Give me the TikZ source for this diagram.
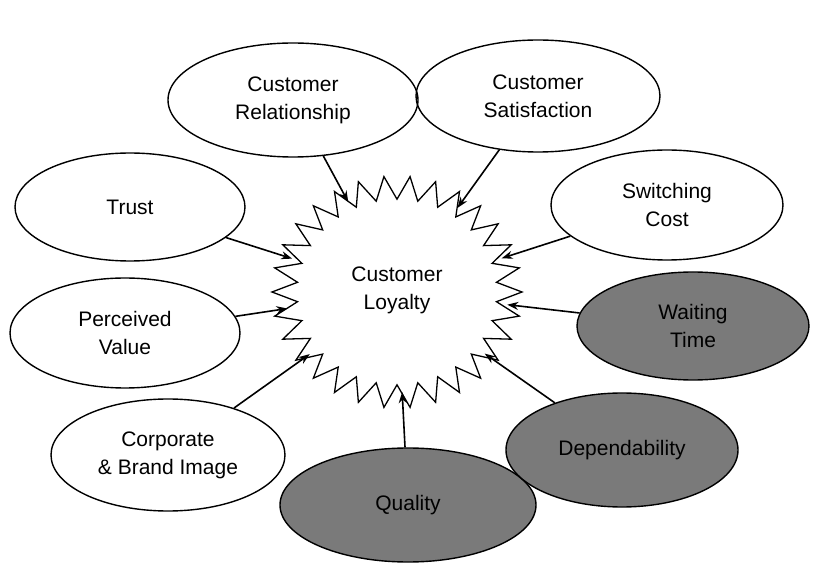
\documentclass[tikz,border=0pt]{standalone}
\usepackage{fontspec}
\setmainfont{Liberation Sans}
\usetikzlibrary{shapes.geometric,arrows.meta}
\definecolor{dg}{RGB}{122,122,122}
\begin{document}
\begin{tikzpicture}[x=1pt,y=-1pt,
 el/.style={ellipse,draw,line width=1.4pt,inner sep=0,align=center,font=\fontsize{21}{28}\selectfont},
 ar/.style={-{Stealth[length=11pt,width=8pt]},line width=1.6pt}]
\useasboundingbox (0,0) rectangle (820,569);
\fill[white] (0,0) rectangle (820,569);
\node[el,minimum width=250,minimum height=114] (cr) at (293,100) {Customer\\Relationship};
\node[el,minimum width=244,minimum height=112] (cs) at (538,96) {Customer\\Satisfaction};
\node[el,minimum width=230,minimum height=108] (tr) at (130,207) {Trust};
\node[el,minimum width=232,minimum height=110] (sw) at (667,205) {Switching\\Cost};
\node[el,minimum width=230,minimum height=110] (pv) at (125,333) {Perceived\\Value};
\node[el,fill=dg,minimum width=232,minimum height=108] (wt) at (693,326) {Waiting\\Time};
\node[el,minimum width=234,minimum height=112] (cb) at (168,455) {Corporate\\\& Brand Image};
\node[el,fill=dg,minimum width=256,minimum height=114] (qu) at (408,505) {Quality};
\node[el,fill=dg,minimum width=232,minimum height=114] (de) at (622,450) {Dependability};
\begin{scope}[shift={(397,292)}]
\draw[line width=1.3pt,fill=white] (0:125 and 116)
 \foreach \i in {1,...,59} { -- ({\i*6}:{125*(1-0.2*mod(\i,2))} and {116*(1-0.2*mod(\i,2))}) } -- cycle;
\end{scope}
\node[ellipse,minimum width=222,minimum height=200,inner sep=0] (st) at (397,292) {};
\node[align=center,font=\fontsize{21}{28}\selectfont] (lbl) at (397,290) {Customer\\Loyalty};
\draw[ar] (cr) -- (st);
\draw[ar] (cs) -- (st);
\draw[ar] (tr) -- (st);
\draw[ar] (sw) -- (st);
\draw[ar] (pv) -- (st);
\draw[ar] (wt) -- (st);
\draw[ar] (cb) -- (st);
\draw[ar] (qu) -- (st);
\draw[ar] (de) -- (st);
\end{tikzpicture}
\end{document}
